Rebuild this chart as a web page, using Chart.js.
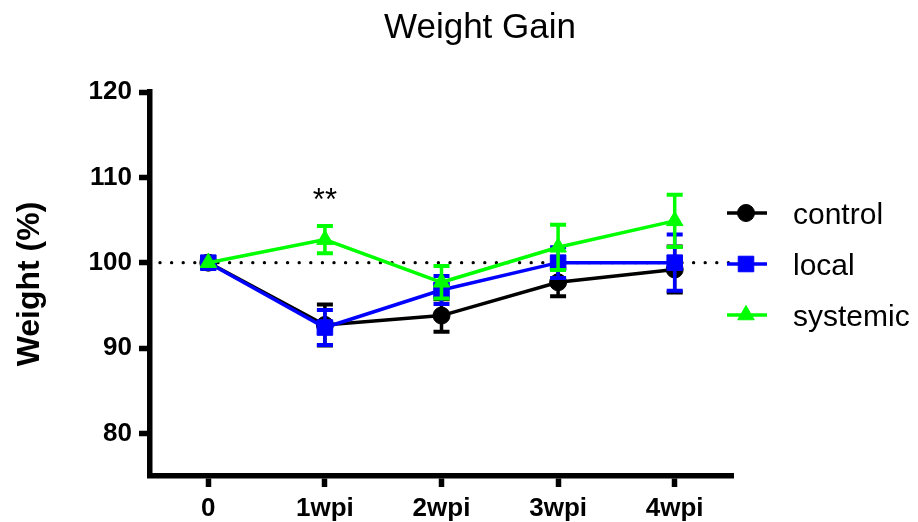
<!DOCTYPE html>
<html><head><meta charset="utf-8">
<script src="https://cdn.jsdelivr.net/npm/chart.js@4/dist/chart.umd.min.js"></script>
<style>html,body{margin:0;padding:0;background:#fff}#wrap{width:918px;height:522px}</style>
</head><body><div id="wrap"><canvas id="c" width="918" height="522"></canvas></div>
<script>
// ---- data ----
const categories = ['0', '1wpi', '2wpi', '3wpi', '4wpi'];
const yTicks = [80, 90, 100, 110, 120];
const seriesNames = ['control', 'local', 'systemic'];
const controlMean = [100, 92.7, 93.8, 97.7, 99.2];
const controlSem = [0, 2.4, 1.9, 1.65, 2.7];
const localMean = [100, 92.4, 96.8, 100.0, 100.0];
const localSem = [0, 2.05, 1.65, 1.8, 3.3];
const systemicMean = [100, 102.7, 97.7, 101.8, 104.9];
const systemicSem = [0, 1.6, 1.9, 2.65, 3.05];
const referenceValue = 100;
const annotations = [{ index: 1, text: '**', value: 106.2 }];
const chartTitle = 'Weight Gain';
const yTitle = 'Weight (%)';

// ---- styles ----
const FONT = "'Liberation Sans', Arial, sans-serif";
const colors = ['#000000', '#0000ff', '#00ff00'];
const pointStyles = ['circle', 'rect', 'triangle'];
const pointRadii = [8.5, 11, 9.5];
const semSeries = [controlSem, localSem, systemicSem];
const meanSeries = [controlMean, localMean, systemicMean];

const datasets = seriesNames.map((name, i) => ({
  label: name,
  data: meanSeries[i],
  borderColor: colors[i],
  backgroundColor: colors[i],
  pointBackgroundColor: colors[i],
  pointBorderColor: colors[i],
  borderWidth: 3.5,
  pointStyle: pointStyles[i],
  pointRadius: pointRadii[i],
  pointHoverRadius: pointRadii[i],
  pointBorderWidth: 1,
  tension: 0,
  fill: false,
  order: 3 - i
}));

function drawMarker(ctx, style, r, x, y, color) {
  ctx.save();
  ctx.fillStyle = color; ctx.strokeStyle = color; ctx.lineWidth = 1;
  if (Chart.helpers && Chart.helpers.drawPoint) {
    Chart.helpers.drawPoint(ctx, { pointStyle: style, radius: r, rotation: 0, borderWidth: 1 }, x, y);
  } else {
    ctx.beginPath(); ctx.arc(x, y, r, 0, Math.PI * 2); ctx.fill();
  }
  ctx.restore();
}

const extras = {
  id: 'extras',
  beforeDatasetsDraw(chart) {
    const { ctx, chartArea, scales } = chart;
    const y = scales.y.getPixelForValue(referenceValue);
    ctx.save();
    ctx.strokeStyle = '#000';
    ctx.lineWidth = 3.4;
    ctx.lineCap = 'round';
    ctx.setLineDash([0, 11.6]);
    ctx.beginPath();
    ctx.moveTo(chartArea.left + 10, y);
    ctx.lineTo(chartArea.right, y);
    ctx.stroke();
    ctx.restore();
  },
  beforeDatasetDraw(chart, args) {
    const i = args.index;
    const meta = args.meta;
    const { ctx, scales } = chart;
    const sem = semSeries[i];
    const mean = meanSeries[i];
    ctx.save();
    ctx.strokeStyle = colors[i];
    ctx.lineCap = 'butt';
    for (let k = 0; k < mean.length; k++) {
      if (!sem[k]) continue;
      const x = meta.data[k].x;
      const yt = scales.y.getPixelForValue(mean[k] + sem[k]);
      const yb = scales.y.getPixelForValue(mean[k] - sem[k]);
      ctx.lineWidth = 3.5;
      ctx.beginPath(); ctx.moveTo(x, yt); ctx.lineTo(x, yb); ctx.stroke();
      ctx.lineWidth = 4;
      ctx.beginPath();
      ctx.moveTo(x - 8, yt); ctx.lineTo(x + 8, yt);
      ctx.moveTo(x - 8, yb); ctx.lineTo(x + 8, yb);
      ctx.stroke();
    }
    ctx.restore();
  },
  afterDraw(chart) {
    const { ctx, chartArea, scales } = chart;
    ctx.save();
    // title
    ctx.fillStyle = '#000';
    ctx.font = '35px ' + FONT;
    ctx.textAlign = 'center';
    ctx.textBaseline = 'alphabetic';
    ctx.fillText(chartTitle, 480, 38);
    // significance
    ctx.font = '31px ' + FONT;
    annotations.forEach(a => {
      ctx.fillText(a.text, scales.x.getPixelForValue(a.index), scales.y.getPixelForValue(a.value));
    });
    // legend
    const lx = chartArea.right - 6;
    const ly0 = 213, step = 51;
    ctx.font = '30px ' + FONT;
    ctx.textAlign = 'left';
    seriesNames.forEach((name, i) => {
      const y = ly0 + i * step;
      ctx.strokeStyle = colors[i];
      ctx.lineWidth = 3.5;
      ctx.beginPath(); ctx.moveTo(lx, y); ctx.lineTo(lx + 40, y); ctx.stroke();
      drawMarker(ctx, pointStyles[i], pointRadii[i], lx + 19, y, colors[i]);
      ctx.fillStyle = '#000';
      ctx.fillText(name, lx + 66, y + 11);
    });
    ctx.restore();
  }
};

new Chart(document.getElementById('c'), {
  type: 'line',
  data: { labels: categories, datasets },
  options: {
    responsive: false,
    animation: false,
    devicePixelRatio: 1,
    layout: { padding: { top: 92, right: 185, left: 0, bottom: 0 } },
    plugins: { legend: { display: false }, title: { display: false }, tooltip: { enabled: false } },
    scales: {
      x: {
        type: 'category',
        offset: true,
        grid: { offset: false, drawOnChartArea: false, drawTicks: true, tickLength: 11, tickWidth: 5.5, tickColor: '#000' },
        border: { display: true, width: 5.5, color: '#000' },
        ticks: { color: '#000', font: { family: FONT, size: 26, weight: 'bold' }, padding: 6, maxRotation: 0, autoSkip: false },
        afterFit(s) { s.height = 46; }
      },
      y: {
        type: 'linear',
        min: 75,
        max: 120,
        afterBuildTicks(s) { s.ticks = yTicks.map(v => ({ value: v })); },
        grid: { drawOnChartArea: false, drawTicks: true, tickLength: 11, tickWidth: 5.5, tickColor: '#000' },
        border: { display: true, width: 5.5, color: '#000' },
        ticks: { color: '#000', font: { family: FONT, size: 26, weight: 'bold' }, padding: 7 },
        title: { display: true, text: yTitle, color: '#000', font: { family: FONT, size: 32, weight: 'bold' }, padding: { top: 11, bottom: 0 } },
        afterFit(s) { s.width = 150; }
      }
    }
  },
  plugins: [extras]
});
</script>
</body></html>
